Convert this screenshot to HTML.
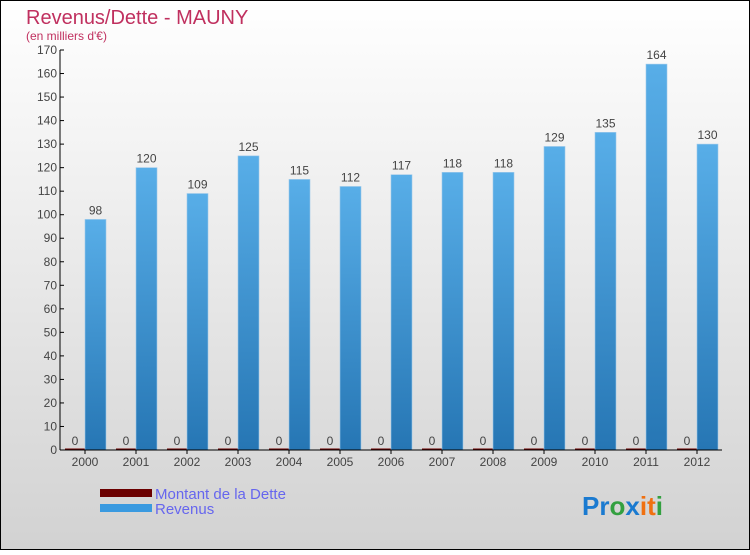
<!DOCTYPE html>
<html><head><meta charset="utf-8"><style>
html,body{margin:0;padding:0}
body{width:750px;height:550px;overflow:hidden}
svg text{font-family:"Liberation Sans",sans-serif}
</style></head><body>
<svg width="750" height="550" xmlns="http://www.w3.org/2000/svg">
<defs>
<linearGradient id="bg" x1="0" y1="0" x2="0" y2="1"><stop offset="0" stop-color="#ffffff"/><stop offset="1" stop-color="#d2d2d2"/></linearGradient>
<linearGradient id="bar" x1="0" y1="0" x2="0" y2="1"><stop offset="0" stop-color="#58aee8"/><stop offset="1" stop-color="#2676b4"/></linearGradient>
</defs>
<rect x="0.5" y="0.5" width="749" height="549" fill="url(#bg)" stroke="#000"/>
<text x="26" y="24" font-size="20" fill="#c0305f">Revenus/Dette - MAUNY</text>
<text x="26" y="40" font-size="12" fill="#c0305f">(en milliers d'€)</text>
<g id="yaxis"></g>
<g id="bars"></g>
<g id="xaxis"></g>
<g>
<rect x="100" y="489" width="52" height="8" fill="#6b0000"/>
<text x="155" y="499" font-size="15" fill="#6666ee">Montant de la Dette</text>
<rect x="100" y="504" width="52" height="8" fill="#3a9ae0"/>
<text x="155" y="514" font-size="15" fill="#6666ee">Revenus</text>
</g>
<text x="582" y="515" font-size="26" font-weight="bold"><tspan fill="#1a7ad0">Pr</tspan><tspan fill="#33a040">o</tspan><tspan fill="#1a7ad0">x</tspan><tspan fill="#f07010">i</tspan><tspan fill="#f07010">t</tspan><tspan fill="#33a040">i</tspan></text>
</svg>
<script>
const years=["2000","2001","2002","2003","2004","2005","2006","2007","2008","2009","2010","2011","2012"];
const revenus=[98,120,109,125,115,112,117,118,118,129,135,164,130];
const dette=[0,0,0,0,0,0,0,0,0,0,0,0,0];
const yTicks=[0,10,20,30,40,50,60,70,80,90,100,110,120,130,140,150,160,170];
const NS="http://www.w3.org/2000/svg";
const y=v=>450-v*400/170;
const xc=i=>85+i*51;
function mk(t,a,p,txt){const e=document.createElementNS(NS,t);for(const k in a)e.setAttribute(k,a[k]);if(txt!==undefined)e.textContent=txt;p.appendChild(e);return e;}
const ya=document.getElementById('yaxis'),ba=document.getElementById('bars'),xa=document.getElementById('xaxis');
mk('line',{x1:60,y1:y(170),x2:60,y2:450,stroke:'#000'},ya);
yTicks.forEach(v=>{
 const t=mk('line',{x1:60,y1:y(v),x2:64,y2:y(v),stroke:'#000'},ya);
 
 
 const l=mk('text',{x:57,y:y(v)+4,'font-size':12,fill:'#444','text-anchor':'end'},ya,v);
 
 
});
years.forEach((yr,i)=>{
 const d=mk('rect',{x:xc(i)-20,y:y(dette[i])-1.5,width:20,height:y(0)-y(dette[i])+1.5,fill:'#6b0000'},ba);
 
 
 const dl=mk('text',{x:xc(i)-10,y:y(dette[i])-5,'font-size':12,fill:'#444','text-anchor':'middle'},ba,dette[i]);
 
 
 const r=mk('rect',{x:xc(i),y:y(revenus[i]),width:21,height:y(0)-y(revenus[i]),fill:'url(#bar)',stroke:'#9cc8ea','stroke-width':0.6},ba);
 
 
 const rl=mk('text',{x:xc(i)+10.5,y:y(revenus[i])-5,'font-size':12,fill:'#444','text-anchor':'middle'},ba,revenus[i]);
 
 
 const xl=mk('text',{x:xc(i),y:466,'font-size':12,fill:'#444','text-anchor':'middle'},xa,yr);
 
 
 mk('line',{x1:xc(i),y1:450,x2:xc(i),y2:454,stroke:'#000'},xa);
});
mk('line',{x1:60,y1:450,x2:722,y2:450,stroke:'#000'},xa);
</script>
</body></html>
